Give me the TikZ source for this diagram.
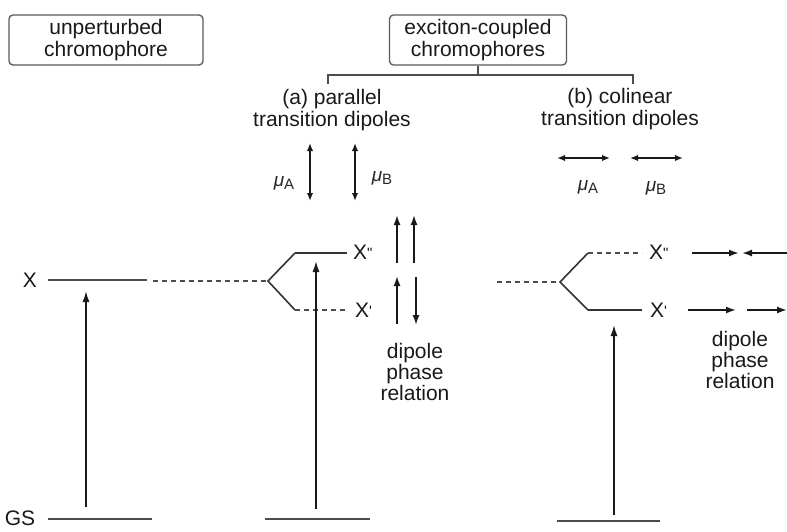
\documentclass[tikz,border=0pt]{standalone}
\usepackage{fontspec}
\setmainfont{Liberation Sans}
\usetikzlibrary{arrows.meta}
\newcommand{\dipmu}[1]{\textit{μ}\raisebox{-3pt}{\fontsize{15}{15}\selectfont #1}}
\newcommand{\primeone}{\raisebox{1pt}{\fontsize{15}{15}\selectfont\textquotesingle}}
\newcommand{\primetwo}{\raisebox{1pt}{\fontsize{15}{15}\selectfont\textquotedbl}}
\begin{document}
\begin{tikzpicture}[x=1pt,y=-1pt,
  txt/.style={font=\fontsize{21}{22.5}\selectfont, text=black!90, align=center, inner sep=0pt},
  mulabel/.style={font=\fontsize{19}{19}\selectfont, text=black!85, inner sep=0pt},
  labelbox/.style={txt, draw=black!65, line width=1.3pt, rounded corners=4pt},
  level/.style={draw=black!70, line width=2.4pt},
  dlevel/.style={draw=black!70, line width=1.6pt, dash pattern=on 5pt off 4pt},
  branch/.style={draw=black!80, line width=1.6pt},
  bracket/.style={draw=black!70, line width=1.5pt},
  trans/.style={draw=black!90, line width=1.5pt, -{Latex[length=11pt,width=7pt]}},
  phase/.style={draw=black!90, line width=1.7pt, -{Latex[length=10pt,width=7pt]}},
  dip/.style={draw=black!90, line width=1.6pt, {Latex[length=8pt,width=6.5pt]}-{Latex[length=8pt,width=6.5pt]}}
]
\useasboundingbox (0,0) rectangle (787,531);

% headings
\node[labelbox, minimum width=194pt, minimum height=50pt] (unp) at (106,40) {unperturbed\\chromophore};
\node[labelbox, minimum width=177pt, minimum height=50pt] (exc) at (478,40) {exciton-coupled\\chromophores};

% bracket splitting the coupled case
\coordinate (bJ) at (478,75);
\coordinate (bL) at (328,84);
\coordinate (bR) at (633,84);
\draw[bracket] (exc.south) -- (bJ);
\draw[bracket] (bL) -- (bL |- bJ) -- (bR |- bJ) -- (bR);

\node[txt] (pa) at (332,110) {(a) parallel\\transition dipoles};
\node[txt] (cb) at (620,109) {(b) colinear\\transition dipoles};

% transition dipoles, parallel
\coordinate (mAt) at (310,143); \coordinate (mAb) at (310,201);
\coordinate (mBt) at (355,143); \coordinate (mBb) at (355,201);
\draw[dip] (mAt) -- (mAb);
\draw[dip] (mBt) -- (mBb);
\node[mulabel] (muA1) at (284,183) {\dipmu{A}};
\node[mulabel] (muB1) at (382,178) {\dipmu{B}};

% transition dipoles, colinear
\coordinate (cAl) at (557,158); \coordinate (cAr) at (610,158);
\coordinate (cBl) at (630,158); \coordinate (cBr) at (683,158);
\draw[dip] (cAl) -- (cAr);
\draw[dip] (cBl) -- (cBr);
\node[mulabel] (muA2) at (588,187) {\dipmu{A}};
\node[mulabel] (muB2) at (656,188) {\dipmu{B}};

% unperturbed chromophore
\node[txt] (Xlab) at (30,280) {X};
\node[txt] (GSlab) at (20,518) {GS};
\coordinate (X1) at (48,280); \coordinate (X2) at (147,280);
\coordinate (G1) at (48,519); \coordinate (G2) at (152,519);
\draw[level] (X1) -- (X2);
\draw[level] (G1) -- (G2);
\coordinate (t1b) at (86,507); \coordinate (t1t) at (86,291);
\draw[trans] (t1b) -- (t1t);

% parallel case: splitting
\coordinate (dA1) at (153,281); \coordinate (jA) at (268,281);
\coordinate (uA) at (295,253); \coordinate (uA2) at (347,253);
\coordinate (lA) at (295,310); \coordinate (lA2) at (348,310);
\draw[dlevel] (dA1) -- (jA);
\draw[branch] (uA) -- (jA) -- (lA);
\draw[branch] (uA) -- (uA2);
\draw[dlevel] (lA) -- (lA2);
\node[txt, anchor=west] (XppA) at (353,252) {X\primetwo};
\node[txt, anchor=west] (XpA) at (355,310) {X\primeone};
\coordinate (G3) at (265,519); \coordinate (G4) at (370,519);
\draw[level] (G3) -- (G4);
\coordinate (t2b) at (316,509); \coordinate (t2t) at (316,261);
\draw[trans] (t2b) -- (t2t);

% parallel case: phase relations
\coordinate (pa1b) at (397,263); \coordinate (pa1t) at (397,215);
\coordinate (pa2b) at (414,263); \coordinate (pa2t) at (414,215);
\coordinate (pa3b) at (397,324); \coordinate (pa3t) at (397,276);
\coordinate (pa4t) at (416,277); \coordinate (pa4b) at (416,325);
\draw[phase] (pa1b) -- (pa1t);
\draw[phase] (pa2b) -- (pa2t);
\draw[phase] (pa3b) -- (pa3t);
\draw[phase] (pa4t) -- (pa4b);
\node[txt, font=\fontsize{21}{21}\selectfont] (relA) at (415,372) {dipole\\phase\\relation};

% colinear case: splitting
\coordinate (dB1) at (497,282); \coordinate (jB) at (560,282);
\coordinate (uB) at (588,253); \coordinate (uB2) at (642,253);
\coordinate (lB) at (588,310); \coordinate (lB2) at (642,310);
\draw[dlevel] (dB1) -- (jB);
\draw[branch] (uB) -- (jB) -- (lB);
\draw[dlevel] (uB) -- (uB2);
\draw[branch] (lB) -- (lB2);
\node[txt, anchor=west] (XppB) at (649,252) {X\primetwo};
\node[txt, anchor=west] (XpB) at (650,310) {X\primeone};
\coordinate (G5) at (557,521); \coordinate (G6) at (660,521);
\draw[level] (G5) -- (G6);
\coordinate (t3b) at (614,515); \coordinate (t3t) at (614,325);
\draw[trans] (t3b) -- (t3t);

% colinear case: phase relations
\coordinate (pb1l) at (692,253); \coordinate (pb1r) at (739,253);
\coordinate (pb2r) at (790,253); \coordinate (pb2l) at (742,253);
\coordinate (pb3l) at (688,310); \coordinate (pb3r) at (736,310);
\coordinate (pb4l) at (747,310); \coordinate (pb4r) at (787,310);
\draw[phase] (pb1l) -- (pb1r);
\draw[phase] (pb2r) -- (pb2l);
\draw[phase] (pb3l) -- (pb3r);
\draw[phase] (pb4l) -- (pb4r);
\node[txt, font=\fontsize{21}{21}\selectfont] (relB) at (740,360) {dipole\\phase\\relation};
\end{tikzpicture}
\end{document}
